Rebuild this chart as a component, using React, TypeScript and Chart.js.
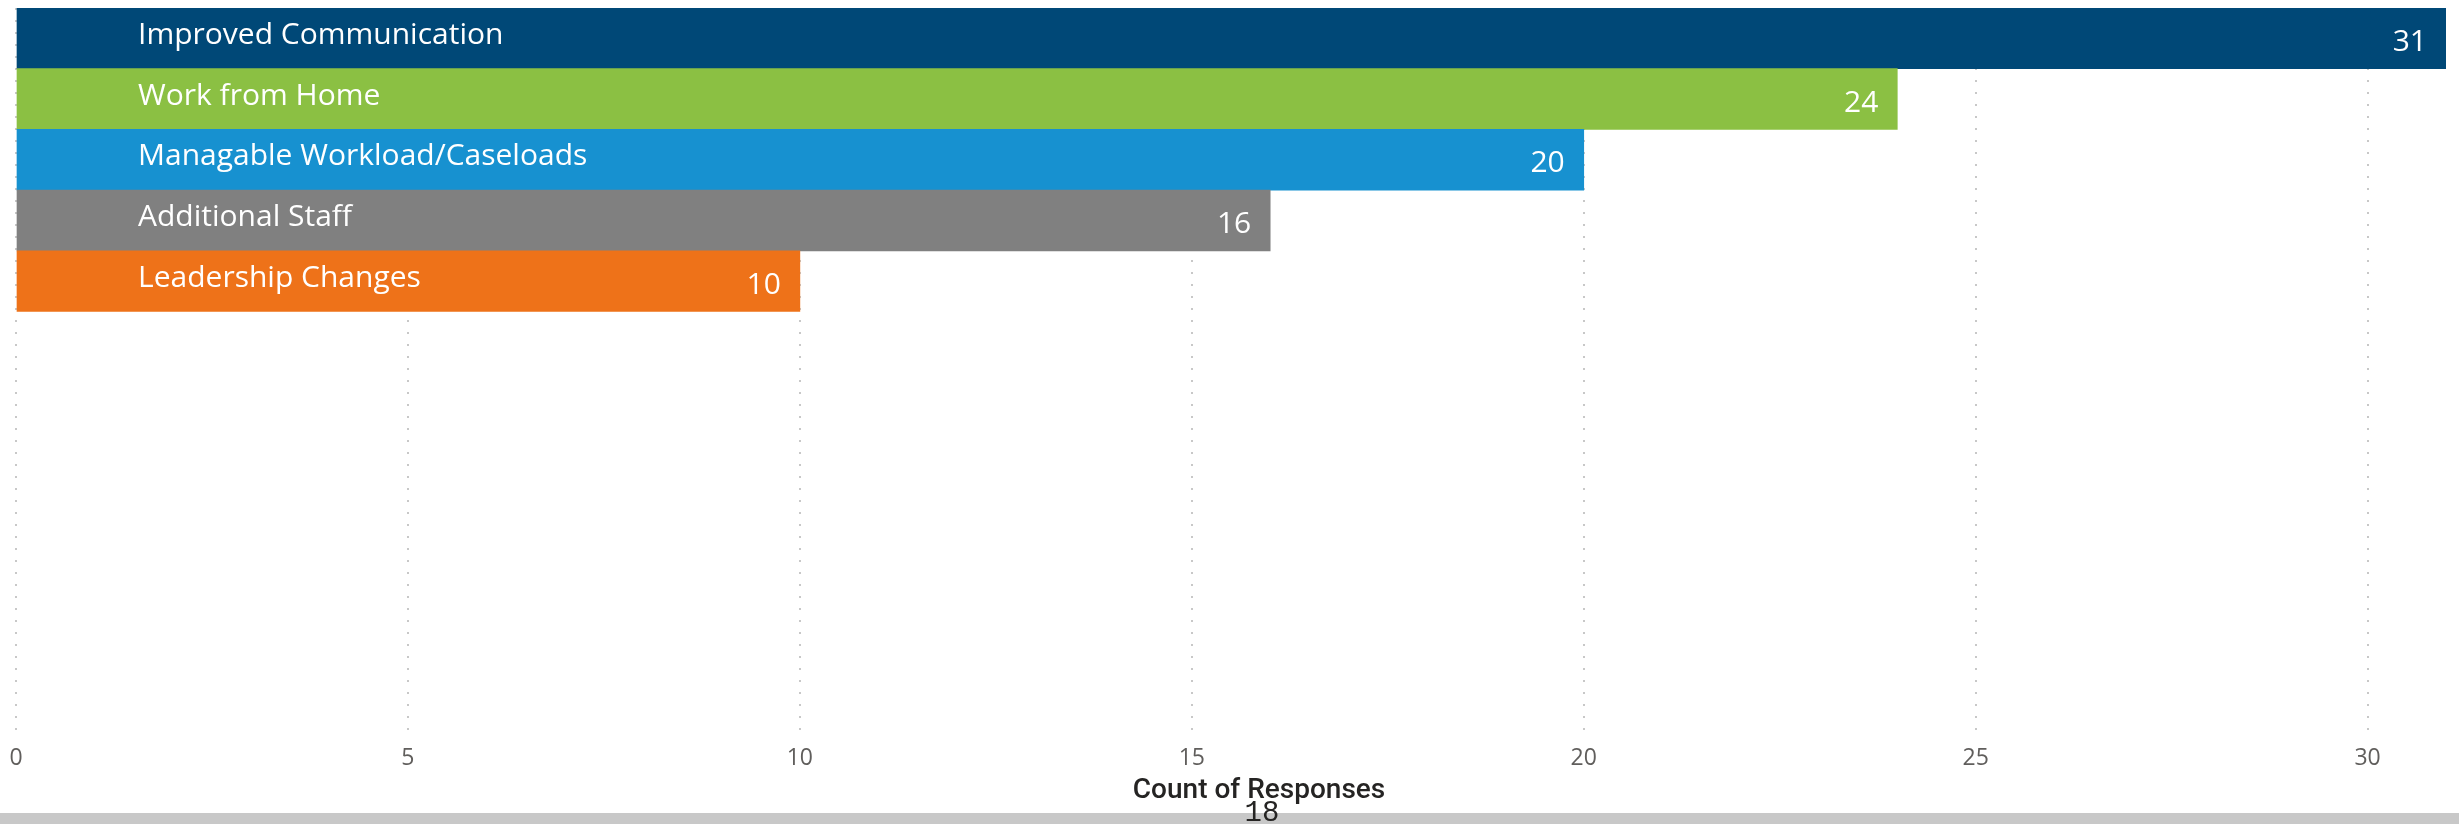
import React, { useEffect, useRef } from "react";
import { Chart, registerables } from "chart.js";

Chart.register(...registerables);

const categories = [
  "Improved Communication",
  "Work from Home",
  "Managable Workload/Caseloads",
  "Additional Staff",
  "Leadership Changes",
];
const counts = [31, 24, 20, 16, 10];
const barColors = ["#004877", "#8BC043", "#1791D0", "#808080", "#EE7219"];
const xTicks = [0, 5, 10, 15, 20, 25, 30];
const xAxisTitle = "Count of Responses";
const pageNumber = "18";

const labelPlugin = {
  id: "barLabels",
  afterDatasetsDraw(chart: any) {
    const ctx = chart.ctx as CanvasRenderingContext2D;
    const meta = chart.getDatasetMeta(0);
    const xs = chart.scales.x;
    ctx.save();
    ctx.fillStyle = "#ffffff";
    ctx.font = '30px "Open Sans"';
    ctx.textBaseline = "middle";
    meta.data.forEach((bar: any, i: number) => {
      const { x, y } = bar.getProps(["x", "y"], true);
      ctx.textAlign = "left";
      ctx.fillText(categories[i], xs.getPixelForValue(0) + 122, y - 3);
      ctx.textAlign = "right";
      ctx.fillText(String(counts[i]), x - 19, y + 4);
    });
    const ca = chart.chartArea;
    ctx.fillStyle = "#252423";
    ctx.font = '500 28px "Roboto"';
    ctx.textAlign = "center";
    ctx.fillText(xAxisTitle, (ca.left + ca.right) / 2 + 28, 791);
    ctx.restore();
  },
};

export default function App() {
  const ref = useRef<HTMLCanvasElement>(null);
  useEffect(() => {
    document.body.style.margin = "0";
    const chart = new Chart(ref.current as HTMLCanvasElement, {
      type: "bar",
      data: {
        datasets: [
          {
            data: counts.map((v, i) => ({ x: v, y: i })),
            backgroundColor: barColors,
            borderWidth: 0,
            barPercentage: 1,
            categoryPercentage: 1,
          } as any,
        ],
      },
      options: {
        indexAxis: "y",
        responsive: false,
        animation: false,
        layout: { padding: { left: 16, right: 13, top: 8, bottom: 33 } },
        plugins: { legend: { display: false }, tooltip: { enabled: false } },
        scales: {
          x: {
            type: "linear",
            min: 0,
            max: 31,
            position: "bottom",
            afterBuildTicks: (s: any) => {
              s.ticks = xTicks.map((v) => ({ value: v }));
            },
            afterFit: (s: any) => {
              s.paddingLeft = 0;
              s.paddingRight = 0;
            },
            grid: { color: "#c8c8c8", lineWidth: 2, drawTicks: false },
            border: { display: false, dash: [2, 10] },
            ticks: {
              color: "#605E5C",
              font: { family: "Open Sans", size: 23 },
              padding: 8,
              maxRotation: 0,
              autoSkip: false,
            },
          },
          y: {
            type: "linear",
            reverse: true,
            offset: false,
            min: -0.5,
            max: 11.5,
            display: false,
            afterBuildTicks: (s: any) => {
              s.ticks = counts.map((_, i) => ({ value: i }));
            },
          },
        },
      } as any,
      plugins: [labelPlugin],
    });
    return () => chart.destroy();
  }, []);
  return (
    <div style={{ position: "relative", width: 2459, height: 824, overflow: "hidden", background: "#fff" }}>
      <div style={{ position: "absolute", left: 0, top: 0, width: 2459, height: 813 }}>
        <canvas ref={ref} width={2459} height={813} style={{ display: "block" }} />
      </div>
      <div style={{ position: "absolute", left: 0, top: 813, width: 2459, height: 11, background: "#c8c8c8" }} />
      <div
        style={{
          position: "absolute",
          left: 1262,
          top: 799,
          transform: "translateX(-50%)",
          font: '29px "Liberation Mono"',
          lineHeight: "29px",
          color: "#252423",
        }}
      >
        {pageNumber}
      </div>
    </div>
  );
}
